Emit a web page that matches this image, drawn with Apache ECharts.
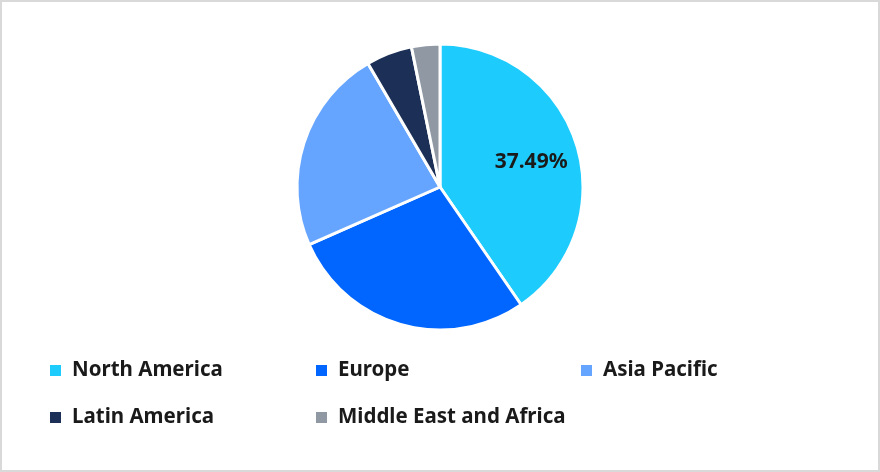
<!DOCTYPE html>
<html>
<head>
<meta charset="utf-8">
<script src="https://cdn.jsdelivr.net/npm/echarts@6/dist/echarts.min.js"></script>
<style>
html,body{margin:0;padding:0;background:#fff;}
#wrap{position:absolute;left:0;top:0;width:876px;height:468px;border:2px solid #d9d9d9;background:#fff;}
#chart{position:absolute;left:-2px;top:-2px;width:880px;height:472px;}
</style>
</head>
<body>
<div id="wrap"><div id="chart"></div></div>
<script>
const categories = ['North America', 'Europe', 'Asia Pacific', 'Latin America', 'Middle East and Africa'];
const values = [40.4, 28.0, 23.2, 5.2, 3.2];
const labelTexts = ['37.49%', '', '', '', ''];
const colors = ['#1ECBFD', '#0066FF', '#66A5FF', '#1C3057', '#9098A4'];

const font = '"Noto Sans", "Open Sans", sans-serif';
const colX = [48, 314, 579];
const rowY = [360, 407];

const chart = echarts.init(document.getElementById('chart'), null, {renderer: 'canvas'});
const legends = categories.map((name, i) => ({
  data: [name],
  left: colX[i % 3],
  top: rowY[Math.floor(i / 3)],
  icon: 'rect',
  itemWidth: 13,
  itemHeight: 13,
  padding: 0,
  selectedMode: false,
  textStyle: {fontFamily: font, fontSize: 20.5, fontWeight: 'bold', color: '#1a1a1a', padding: [0, 0, 0, 5]}
}));

chart.setOption({
  animation: false,
  color: colors,
  legend: legends,
  series: [{
    type: 'pie',
    center: [440, 187],
    radius: [0, 143],
    startAngle: 90,
    clockwise: true,
    itemStyle: {borderColor: '#fff', borderWidth: 3},
    label: {
      show: true,
      position: 'inside',
      formatter: p => labelTexts[p.dataIndex],
      fontFamily: font,
      fontSize: 21,
      fontWeight: 'bold',
      color: '#1a1a1a',
      offset: [20, -3]
    },
    labelLine: {show: false},
    emphasis: {disabled: true},
    data: categories.map((n, i) => ({name: n, value: values[i]}))
  }]
});
</script>
</body>
</html>
